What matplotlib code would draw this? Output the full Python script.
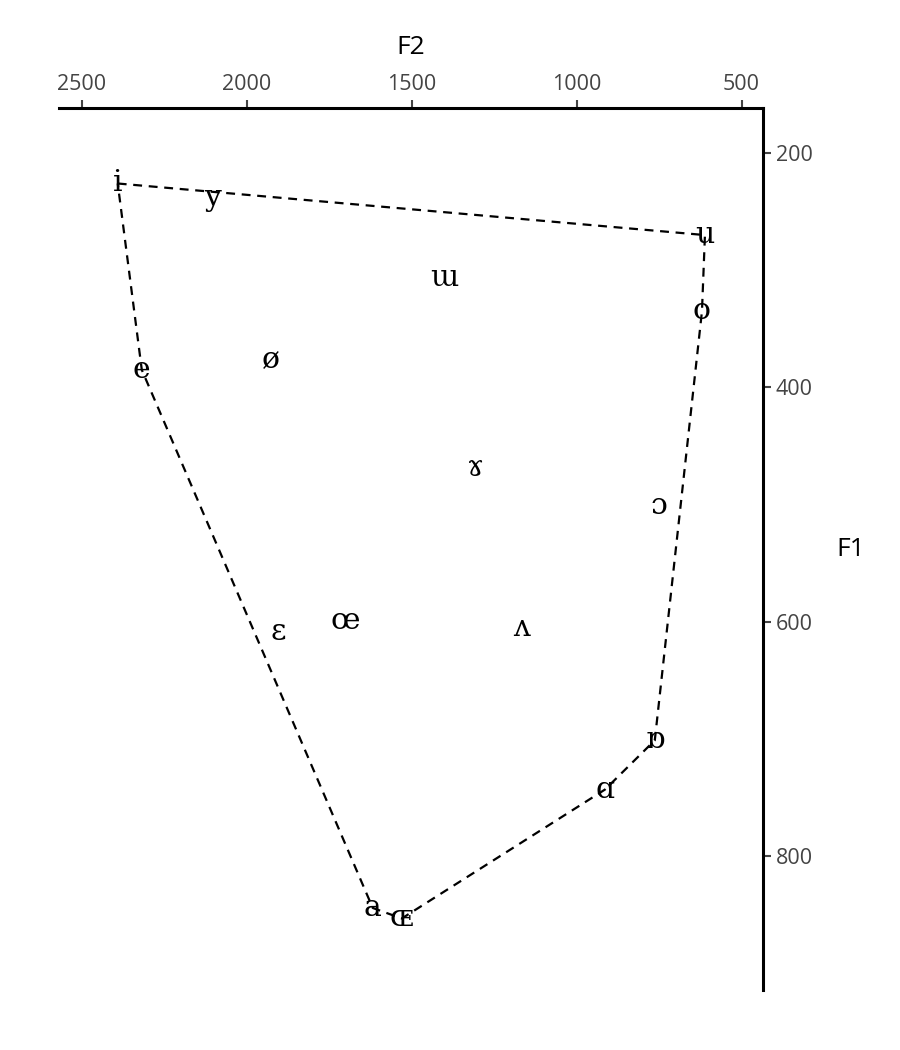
import matplotlib
matplotlib.use("Agg")
import matplotlib.pyplot as plt

# Vowel data
vowels = ["i", "y", "e", "ø", "ɛ", "œ", "a", "ɶ", "ɑ", "ɒ", "ʌ", "ɔ", "ɤ", "o", "ɯ", "u"]
f1 = [226, 238, 385, 377, 609, 599, 844, 853, 743, 701, 605, 501, 469, 335, 307, 270]
f2 = [2391, 2103, 2318, 1927, 1903, 1700, 1618, 1530, 914, 763, 1166, 751, 1306, 620, 1400, 611]

# Outline (vowel chart boundary) in drawing order
outline = ["i", "u", "o", "ɒ", "ɑ", "ɶ", "a", "e", "i"]

x_ticks = [2500, 2000, 1500, 1000, 500]
y_ticks = [200, 400, 600, 800]

fig = plt.figure(figsize=(9, 10.5), dpi=100)
ax = fig.add_axes([59 / 900, 1 - 990 / 1050, (763 - 59) / 900, (990 - 108) / 1050])

idx = {v: k for k, v in enumerate(vowels)}
ox = [f2[idx[v]] for v in outline]
oy = [f1[idx[v]] for v in outline]
ax.plot(ox, oy, color="black", lw=1.6, linestyle=(0, (4, 3)), zorder=1)

for v, a, b in zip(vowels, f2, f1):
    ax.text(a, b, v, ha="center", va="center", fontsize=21.5,
            family=["DejaVu Serif"], color="black", zorder=2)

ax.set_xlim(2569, 435)
ax.set_ylim(914, 161.6)

ax.xaxis.tick_top()
ax.yaxis.tick_right()
ax.set_xticks(x_ticks)
ax.set_yticks(y_ticks)
ax.set_xticklabels([str(t) for t in x_ticks])
ax.set_yticklabels([str(t) for t in y_ticks])
ax.tick_params(axis="both", length=6, width=1.5, color="#444444",
               labelcolor="#444444", labelsize=15.5, pad=3)
for lab in ax.get_xticklabels() + ax.get_yticklabels():
    lab.set_family(["Open Sans", "DejaVu Sans"])

for s in ["left", "bottom"]:
    ax.spines[s].set_visible(False)
for s in ["top", "right"]:
    ax.spines[s].set_linewidth(2.2)
    ax.spines[s].set_color("black")

fig.text(411 / 900, 1 - 48 / 1050, "F2", ha="center", va="center",
         fontsize=19, family=["Open Sans", "DejaVu Sans"])
fig.text(851 / 900, 1 - 550 / 1050, "F1", ha="center", va="center",
         fontsize=19, family=["Open Sans", "DejaVu Sans"])

fig.savefig("out.png", dpi=100, facecolor="white")
